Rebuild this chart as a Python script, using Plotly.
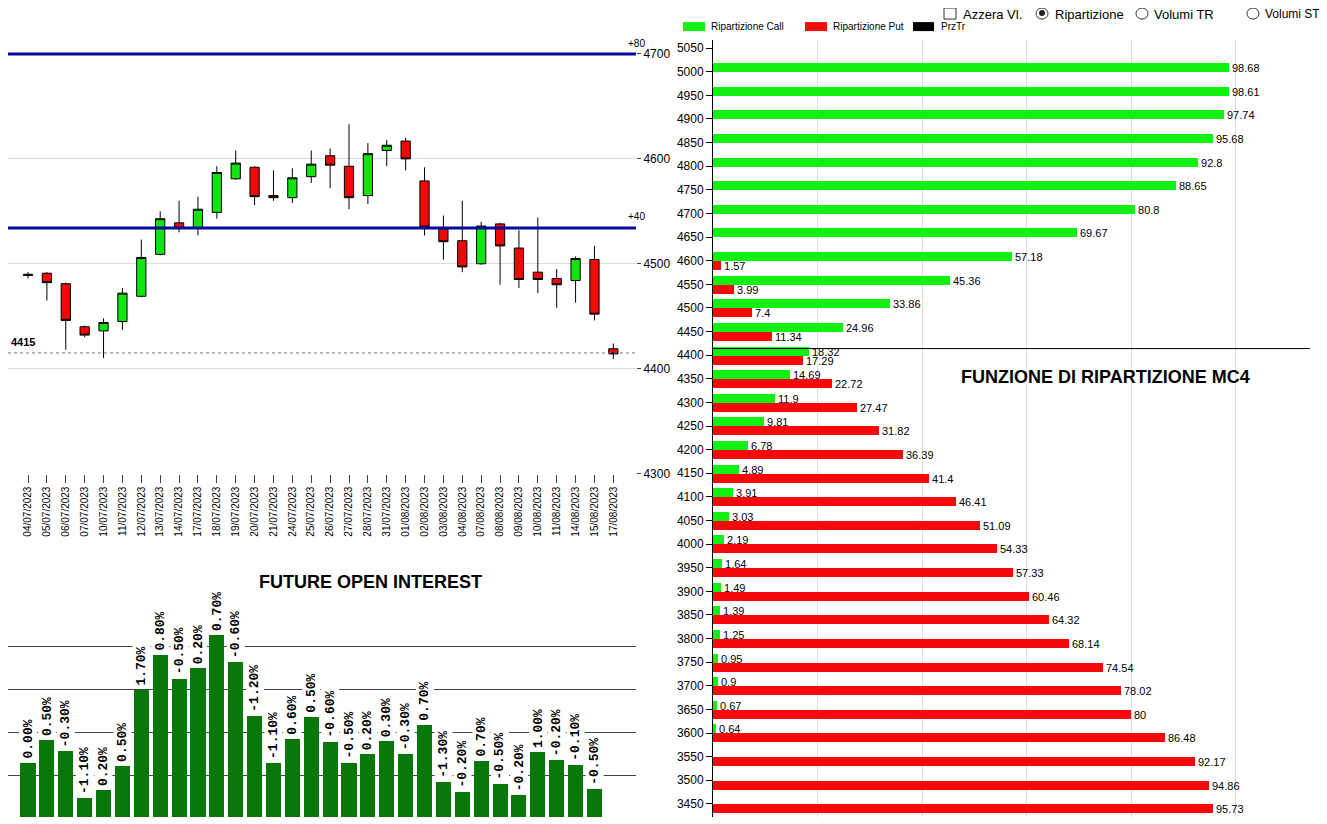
import plotly.graph_objects as go

OFF = 8
PAGE_H = 832
S = 824 / PAGE_H
W, H = 1327 - OFF, PAGE_H - 2 * OFF
def px(x): return (x - OFF) / W
def py(y): return max(0.0, min(1.0, 1 - (y / S - OFF) / H))

dates = ["04/07/2023","05/07/2023","06/07/2023","07/07/2023","10/07/2023","11/07/2023","12/07/2023",
         "13/07/2023","14/07/2023","17/07/2023","18/07/2023","19/07/2023","20/07/2023","21/07/2023",
         "24/07/2023","25/07/2023","26/07/2023","27/07/2023","28/07/2023","31/07/2023","01/08/2023",
         "02/08/2023","03/08/2023","04/08/2023","07/08/2023","08/08/2023","09/08/2023","10/08/2023",
         "11/08/2023","14/08/2023","15/08/2023","17/08/2023"]
opens  = [4490,4491,4481,4440,4436,4445,4469,4509,4539,4534,4549,4581,4592,4565,4563,4583,4603,4593,4565,4608,4617,4579,4533,4522,4500,4538,4515,4492,4486,4484,4504,4419]
highs  = [4492,4492,4482,4441,4448,4477,4523,4550,4560,4564,4593,4608,4593,4589,4591,4608,4610,4633,4615,4618,4620,4592,4546,4560,4540,4539,4532,4544,4495,4507,4517,4424]
lows   = [4486,4465,4418,4430,4410,4437,4468,4508,4530,4527,4543,4580,4556,4560,4558,4577,4572,4552,4557,4593,4589,4527,4504,4492,4499,4480,4477,4472,4458,4463,4446,4409]
closes = [4489,4482,4446,4432,4444,4472,4506,4543,4534,4552,4587,4596,4564,4563,4582,4595,4594,4563,4605,4613,4600,4535,4521,4497,4536,4517,4485,4485,4480,4505,4452,4414]

oi_values = [1.30,1.84,1.58,0.49,0.67,1.23,3.00,3.81,3.26,3.51,4.28,3.65,2.40,1.30,1.86,2.37,1.79,1.30,1.51,1.81,1.51,2.19,0.86,0.63,1.35,0.81,0.56,1.56,1.37,1.26,0.70]
oi_labels = ["0.00%","0.50%","-0.30%","-1.10%","0.20%","0.50%","1.70%","0.80%","-0.50%","0.20%","0.70%","-0.60%","-1.20%","-1.10%","0.60%","0.50%","-0.60%","-0.50%","0.20%","0.30%","-0.30%","0.70%","-1.30%","-0.20%","0.70%","-0.50%","-0.20%","1.00%","-0.20%","-0.10%","-0.50%"]

strikes = list(range(5000, 3400, -50))
call_vals = [98.68,98.61,97.74,95.68,92.8,88.65,80.8,69.67,57.18,45.36,33.86,24.96,18.32,14.69,11.9,9.81,6.78,4.89,3.91,3.03,2.19,1.64,1.49,1.39,1.25,0.95,0.9,0.67,0.64,None,None,None]
put_vals = [None]*8 + [1.57,3.99,7.4,11.34,17.29,22.72,27.47,31.82,36.39,41.4,46.41,51.09,54.33,57.33,60.46,64.32,68.14,74.54,78.02,80,86.48,92.17,94.86,95.73]

level_hi, level_mid, last_price = 4700, 4534, 4415
price_ticks = [4300, 4400, 4500, 4600, 4700]

fig = go.Figure()
fig.add_trace(go.Candlestick(x=dates, open=opens, high=highs, low=lows, close=closes,
    increasing=dict(fillcolor="#11e411", line=dict(color="#000000", width=1)),
    decreasing=dict(fillcolor="#ee0a0a", line=dict(color="#000000", width=1)),
    whiskerwidth=0, xaxis="x", yaxis="y", showlegend=False))

fig.add_trace(go.Bar(x=dates[:31], y=oi_values, marker=dict(color="#087808", line=dict(width=0)),
    width=0.8, xaxis="x2", yaxis="y2", showlegend=False))
for d, v, t in zip(dates[:31], oi_values, oi_labels):
    fig.add_annotation(x=d, y=v, xref="x2", yref="y2", text="<b>"+t+"</b>", textangle=-90,
        showarrow=False, yanchor="bottom", yshift=2, bgcolor="white",
        font=dict(family="Liberation Mono, DejaVu Sans Mono", size=13, color="black"))

lblfont = dict(size=11, color="black", family="Liberation Sans Narrow, Liberation Sans")
fig.add_trace(go.Bar(y=strikes, x=put_vals, orientation="h", base=0, width=19, offset=-20,
    marker=dict(color="#f40a0a", line=dict(width=0)), text=[("" if v is None else f"{v:g}") for v in put_vals],
    textposition="outside", constraintext="none", cliponaxis=False, textfont=lblfont,
    xaxis="x3", yaxis="y3", showlegend=False))
fig.add_trace(go.Bar(y=strikes, x=call_vals, orientation="h", base=0, width=19, offset=-1,
    marker=dict(color="#11f011", line=dict(width=0)), text=[("" if v is None else f"{v:g}") for v in call_vals],
    textposition="outside", constraintext="none", cliponaxis=False, textfont=lblfont,
    xaxis="x3", yaxis="y3", showlegend=False))

def prect(x0, x1, y0, y1, **kw):
    return dict(type="rect", xref="paper", yref="paper", x0=px(x0), x1=px(x1), y0=py(y1), y1=py(y0), **kw)
def pcirc(cx, cy, r, **kw):
    return dict(type="circle", xref="paper", yref="paper", x0=px(cx-r), x1=px(cx+r), y0=py(cy+r), y1=py(cy-r), **kw)

shapes = [
    dict(type="line", xref="paper", yref="y", x0=px(8), x1=px(636), y0=level_hi, y1=level_hi, line=dict(color="#0a0a9a", width=3)),
    dict(type="line", xref="paper", yref="y", x0=px(8), x1=px(636), y0=level_mid, y1=level_mid, line=dict(color="#0a0a9a", width=3)),
    dict(type="line", xref="paper", yref="y", x0=px(8), x1=px(636), y0=last_price, y1=last_price, line=dict(color="#777777", width=1, dash="dot")),
    dict(type="line", xref="x3", yref="y3", x0=0, x1=114.2, y0=4414, y1=4414, line=dict(color="black", width=1)),
    prect(683, 705, 22, 31, fillcolor="#11f011", line=dict(width=0)),
    prect(805, 827, 22, 31, fillcolor="#f40a0a", line=dict(width=0)),
    prect(913, 934, 22, 31, fillcolor="#000000", line=dict(width=0)),
    prect(944, 956, 7, 19, fillcolor="white", line=dict(color="#333", width=1)),
    pcirc(1042, 13, 6, fillcolor="white", line=dict(color="#333", width=1)),
    pcirc(1042, 13, 3, fillcolor="#222", line=dict(width=0)),
    pcirc(1142, 13, 6, fillcolor="white", line=dict(color="#333", width=1)),
    pcirc(1253, 13, 6, fillcolor="white", line=dict(color="#333", width=1)),
]
ann = [
    dict(text="+80", x=px(626), y=43, font=dict(size=10)),
    dict(text="+40", x=px(626), y=216, font=dict(size=10)),
    dict(text="<b>4415</b>", x=px(9), y=342, font=dict(size=11)),
    dict(text="<b>FUTURE OPEN INTEREST</b>", x=px(370), y=581, xanchor="center", font=dict(size=18)),
    dict(text="<b>FUNZIONE DI RIPARTIZIONE MC4</b>", x=px(1105), y=377, xanchor="center", font=dict(size=18)),
    dict(text="Ripartizione Call", x=px(709), y=26, font=dict(size=10)),
    dict(text="Ripartizione Put", x=px(831), y=26, font=dict(size=10)),
    dict(text="PrzTr", x=px(939), y=26, font=dict(size=10)),
    dict(text="Azzera Vl.", x=px(961), y=14, font=dict(size=13)),
    dict(text="Ripartizione", x=px(1053), y=14, font=dict(size=13)),
    dict(text="Volumi TR", x=px(1152), y=14, font=dict(size=13)),
    dict(text="Volumi ST", x=px(1263), y=14, font=dict(size=12)),
]
for a in ann:
    a["xref"] = "paper"; a["yref"] = "paper"; a["y"] = py(a["y"])
    a.setdefault("xanchor", "left")
    a["yanchor"] = "middle"; a["showarrow"] = False
    a["font"] = dict(family="Liberation Sans, Arial", color="black", **a["font"])
    fig.add_annotation(**a)

bottom_ref_y = (OFF + H) * S
y3_bottom = 3450 - (bottom_ref_y - 803) * 50 / 23.6
y3_top = 5050 + (48 - 40) * 50 / 23.6
y2_bottom = -(bottom_ref_y - 818) / 43.0

fig.update_layout(
    width=W, height=H, margin=dict(l=0, r=0, t=0, b=0),
    paper_bgcolor="white", plot_bgcolor="white", bargap=0,
    font=dict(family="Liberation Sans, Arial", color="black"),
    shapes=shapes,
    xaxis=dict(domain=[px(8), px(636)], type="category", range=[-1.06, 32.2], rangeslider=dict(visible=False),
               tickangle=-90, ticks="outside", ticklen=8, tickcolor="#444", showgrid=False,
               tickfont=dict(size=10), anchor="y"),
    yaxis=dict(domain=[py(473), py(35)], range=[4300, 4718], side="right", tickvals=price_ticks,
               gridcolor="#dddddd", ticks="outside", ticklen=4, tickfont=dict(size=12), zeroline=False, anchor="x"),
    xaxis2=dict(domain=[px(8), px(636)], type="category", categoryarray=dates[:31], range=[-1.06, 32.2],
                showticklabels=False, showgrid=False, anchor="y2"),
    yaxis2=dict(domain=[0, py(603)], range=[y2_bottom, 5], tickvals=[0, 1, 2, 3, 4, 5], showticklabels=False,
                gridcolor="#444444", zeroline=False, anchor="x2"),
    xaxis3=dict(domain=[px(713), px(1310)], range=[0, 114.2], dtick=20, showticklabels=False,
                gridcolor="#dddddd", zeroline=False, anchor="y3"),
    yaxis3=dict(domain=[0, py(40)], range=[y3_bottom, y3_top], dtick=50, ticks="outside", ticklen=6, tickcolor="black",
                showline=True, linecolor="black", showgrid=False, tickfont=dict(size=12, family="Liberation Sans Narrow, Liberation Sans"),
                zeroline=False, anchor="x3"),
)
fig.write_html("out.html")
